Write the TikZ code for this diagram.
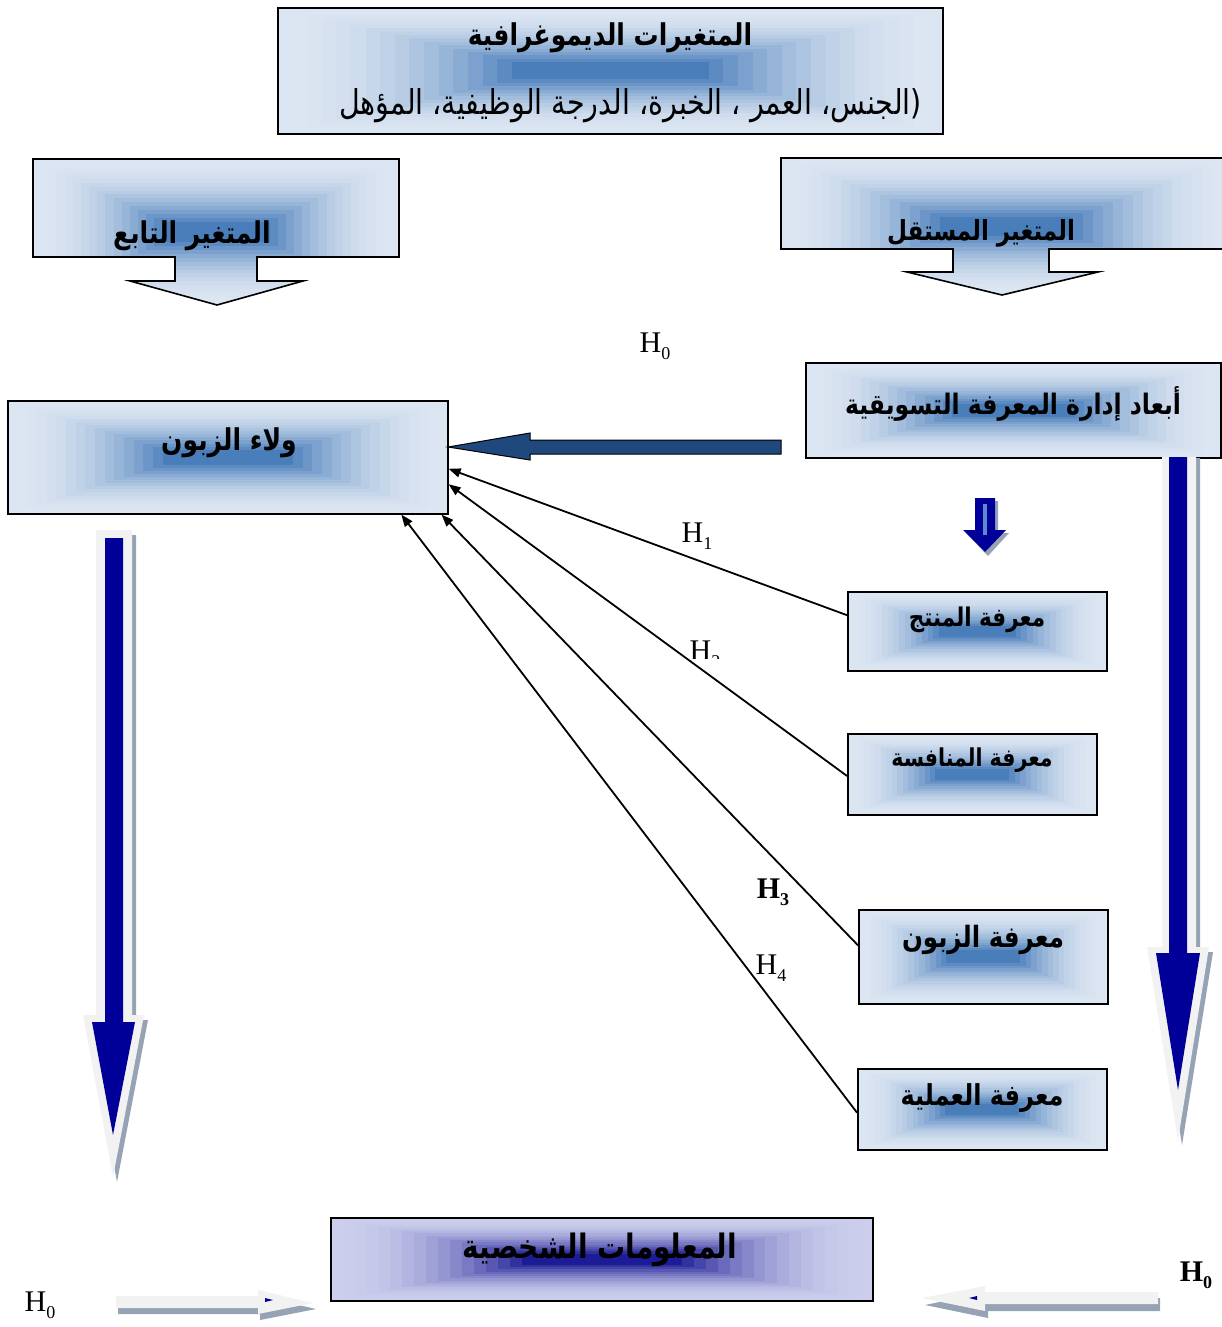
\documentclass[tikz,border=0pt]{standalone}
\usepackage{fontspec}
\setmainfont{Liberation Serif}
\newfontfamily\arabicfont[Script=Arabic]{DejaVu Sans}
\TeXXeTstate=1
\usetikzlibrary{calc,arrows.meta}

\definecolor{edgeblue}{RGB}{220,230,242}
\definecolor{coreblue}{RGB}{74,126,187}
\definecolor{edgeviolet}{RGB}{204,206,236}
\definecolor{coreviolet}{RGB}{28,28,150}
\definecolor{navy}{RGB}{0,0,153}
\definecolor{slateblue}{RGB}{31,73,125}
\definecolor{paleshaft}{RGB}{242,242,242}
\definecolor{shadowgrey}{RGB}{150,163,180}
\definecolor{streak}{RGB}{90,140,205}

\newcommand{\artext}[1]{\scalebox{1}[1.2]{\arabicfont\beginR #1\endR}}
\newcommand{\Hsub}[1]{H\raisebox{-0.22em}{\fontsize{18}{18}\selectfont #1}}
\newcommand{\arsize}[1]{\bfseries\fontsize{#1}{#1}\selectfont}

\tikzset{
  gradfill/.style n args={2}{path picture={
    \path (path picture bounding box.south west) coordinate (gA)
          (path picture bounding box.north east) coordinate (gB);
    \foreach \k in {0,...,16}{
      \pgfmathsetmacro\fx{\k*0.022}
      \pgfmathsetmacro\fy{\k*0.027}
      \pgfmathsetmacro\pc{100*(\k/16)*(\k/16)}
      \fill[#2!\pc!#1] let \p1=(gA), \p2=(gB) in
        ({\x1+\fx*(\x2-\x1)},{\y1+\fy*(\y2-\y1)}) rectangle
        ({\x2-\fx*(\x2-\x1)},{\y2-\fy*(\y2-\y1)});
    }
  }},
  kbox/.style={draw=black, line width=1.6pt, gradfill={edgeblue}{coreblue}, inner sep=0pt},
  vbox/.style={draw=black, line width=1.6pt, gradfill={edgeviolet}{coreviolet}, inner sep=0pt},
  artitle/.style={inner sep=0pt},
  hlabel/.style={font=\fontsize{30}{30}\selectfont, inner sep=0pt},
  link/.style={draw=black, line width=1.8pt, -{Triangle[length=12pt,width=9pt]}},
}

\begin{document}
\begin{tikzpicture}[x=1pt,y=-1pt]
\useasboundingbox (0,0) rectangle (1221,1327);
\fill[white] (0,0) rectangle (1221,1327);

% demographic variables
\node[kbox, anchor=north west, minimum width=665, minimum height=126] (demo) at (277,7) {};
\node[artitle, font=\arsize{25}] (demotitle) at (610,38) {\artext{المتغيرات الديموغرافية}};
\node[artitle, anchor=east, font=\fontsize{28.5}{28.5}\selectfont] (demolist) at (922,106) {\artext{(الجنس، العمر ، الخبرة، الدرجة الوظيفية، المؤهل}};

% dependent / independent variable callouts
\path[draw=black, line width=1.6pt, gradfill={edgeblue}{coreblue}]
  (33,159) -- (399,159) -- (399,257) -- (257,257) -- (257,281) -- (303,281)
  -- (217,305) -- (130,281) -- (175,281) -- (175,257) -- (33,257) -- cycle;
\node[artitle, font=\arsize{25}] (deptext) at (192,236) {\artext{المتغير التابع}};

\path[draw=black, line width=1.6pt, gradfill={edgeblue}{coreblue}]
  (781,158) -- (1232,158) -- (1232,249) -- (1049,249) -- (1049,272) -- (1098,272)
  -- (1002,295) -- (907,272) -- (953,272) -- (953,249) -- (781,249) -- cycle;
\node[artitle, font=\arsize{23}] (indtext) at (981,233) {\artext{المتغير المستقل}};

% main boxes
\node[kbox, anchor=north west, minimum width=415, minimum height=95] (dims) at (805,362) {};
\node[artitle, font=\arsize{23.5}] (dimstext) at (1013,404) {\artext{أبعاد إدارة المعرفة التسويقية}};

\node[kbox, anchor=north west, minimum width=440, minimum height=113] (loy) at (7,400) {};
\node[artitle, font=\arsize{25}] (loytext) at (229,443) {\artext{ولاء الزبون}};

\node[kbox, anchor=north west, minimum width=259, minimum height=79] (prod) at (847,591) {};
\node[artitle, font=\arsize{21.5}] (prodtext) at (977,620) {\artext{معرفة المنتج}};

\node[kbox, anchor=north west, minimum width=249, minimum height=81] (comp) at (847,733) {};
\node[artitle, font=\arsize{20.5}] (comptext) at (972,760) {\artext{معرفة المنافسة}};

\node[kbox, anchor=north west, minimum width=249, minimum height=94] (cust) at (858,909) {};
\node[artitle, font=\arsize{24.5}] (custtext) at (983,940) {\artext{معرفة الزبون}};

\node[kbox, anchor=north west, minimum width=249, minimum height=81] (proc) at (857,1068) {};
\node[artitle, font=\arsize{24}] (proctext) at (982,1098) {\artext{معرفة العملية}};

\node[vbox, anchor=north west, minimum width=542, minimum height=83] (pers) at (330,1217) {};
\node[artitle, font=\arsize{28}] (perstext) at (600,1250) {\artext{المعلومات الشخصية}};

% thick arrow from the dimensions into loyalty
\path[draw=black, line width=1pt, fill=slateblue]
  (781,440) -- (530,440) -- (530,433) -- (448,447) -- (530,460) -- (530,454) -- (781,454) -- cycle;

% small arrow under the dimensions box
\fill[shadowgrey] (978,501) -- (998,501) -- (998,533) -- (1009,533) -- (988,556) -- (966,533) -- (978,533) -- cycle;
\fill[navy] (975,498) -- (995,498) -- (995,530) -- (1006,530) -- (985,552) -- (963,530) -- (975,530) -- cycle;
\fill[streak] (983,504) rectangle (987,535);

% hypothesis links
\draw[link] ($(prod.north west)!0.30!(prod.south west)$) -- ($(loy.north east)!0.60!(loy.south east)$);
\draw[link] ($(comp.north west)!0.52!(comp.south west)$) -- ($(loy.north east)!0.735!(loy.south east)$);
\draw[link] ($(cust.north west)!0.38!(cust.south west)$) -- ($(loy.south west)!0.984!(loy.south east)$);
\draw[link] ($(proc.north west)!0.54!(proc.south west)$) -- ($(loy.south west)!0.893!(loy.south east)$);

% hypothesis labels
\node[hlabel] (h0top) at (655,346) {\Hsub{0}};
\node[hlabel] (h1) at (697,536) {\Hsub{1}};
\begin{scope}
  \clip (660,620) rectangle (790,658);
  \node[hlabel] (h2) at (705,654) {\Hsub{2}};
\end{scope}
\node[hlabel, font=\bfseries\fontsize{30}{30}\selectfont] (h3) at (773,892) {\Hsub{3}};
\node[hlabel] (h4) at (771,968) {\Hsub{4}};
\node[hlabel] (h0left) at (40,1305) {\Hsub{0}};
\node[hlabel, font=\bfseries\fontsize{30}{30}\selectfont] (h0right) at (1196,1275) {\Hsub{0}};

% long arrow under loyalty
\fill[shadowgrey] (100,535) -- (136,535) -- (136,1020) -- (148,1020) -- (117,1182) -- (87,1020) -- (100,1020) -- cycle;
\fill[paleshaft] (96,530) -- (132,530) -- (132,1015) -- (144,1015) -- (113,1177) -- (83,1015) -- (96,1015) -- cycle;
\fill[navy] (105,538) -- (123,538) -- (123,1022) -- (135,1022) -- (113,1135) -- (92,1022) -- (105,1022) -- cycle;

% long arrow under the dimensions box
\fill[shadowgrey] (1166,458) -- (1200,458) -- (1200,952) -- (1213,952) -- (1182,1145) -- (1151,952) -- (1166,952) -- cycle;
\fill[paleshaft] (1162,457) -- (1196,457) -- (1196,947) -- (1209,947) -- (1178,1140) -- (1147,947) -- (1162,947) -- cycle;
\fill[navy] (1169,457) -- (1187,457) -- (1187,953) -- (1200,953) -- (1178,1090) -- (1156,953) -- (1169,953) -- cycle;

% small arrows beside the personal information box
\fill[shadowgrey] (118,1302) -- (260,1302) -- (260,1296) -- (316,1309) -- (260,1320) -- (260,1314) -- (118,1314) -- cycle;
\fill[paleshaft] (116,1296) -- (258,1296) -- (258,1290) -- (313,1303) -- (258,1314) -- (258,1308) -- (116,1308) -- cycle;
\fill[navy] (265,1298) -- (273,1300) -- (265,1302) -- cycle;

\fill[shadowgrey] (1160,1298) -- (988,1298) -- (988,1292) -- (925,1305) -- (988,1318) -- (988,1311) -- (1160,1311) -- cycle;
\fill[paleshaft] (1158,1292) -- (985,1292) -- (985,1286) -- (922,1298) -- (985,1311) -- (985,1304) -- (1158,1304) -- cycle;
\fill[navy] (977,1296) -- (969,1298) -- (977,1300) -- cycle;
\end{tikzpicture}
\end{document}
